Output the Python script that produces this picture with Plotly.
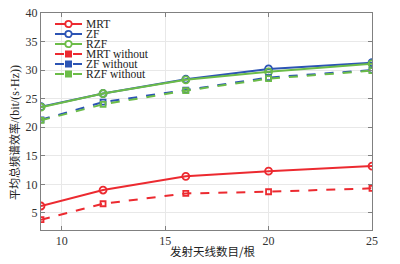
import plotly.graph_objects as go

x = [9, 12, 16, 20, 25]
mrt = [6.2, 9.0, 11.4, 12.3, 13.2]
zf = [23.6, 25.9, 28.4, 30.2, 31.3]
rzf = [23.5, 25.9, 28.3, 29.7, 31.1]
mrt_wo = [3.8, 6.6, 8.4, 8.7, 9.3]
zf_wo = [21.3, 24.4, 26.5, 28.7, 30.0]
rzf_wo = [21.2, 24.0, 26.4, 28.5, 29.9]

names = ["MRT", "ZF", "RZF", "MRT without", "ZF without", "RZF without"]
series = [mrt, zf, rzf, mrt_wo, zf_wo, rzf_wo]
red, blue, green = "#ec2a30", "#2c54b4", "#6cbc48"
colors = [red, blue, green, red, blue, green]

x_title = "发射天线数目/根"
y_title_cn = "平均总频谱效率"
y_title_unit = "/(bit/(s·Hz))"

W, H = 400, 264
L, R, T, B = 41, 28, 13, 34
pw, ph = W - L - R, H - T - B

def px2paper(px, py):
    return (px - L) / pw, (H - B - py) / ph

font = "Liberation Serif"
cjk = "Noto Sans CJK SC"

fig = go.Figure()
for i, (n, s, c) in enumerate(zip(names, series, colors)):
    solid = i < 3
    fig.add_trace(go.Scatter(
        x=x, y=s, name=n, mode="lines+markers", showlegend=False, hoverinfo="skip",
        line=dict(color=c, width=2, dash="solid" if solid else "dash"),
        marker=dict(symbol="circle-open" if solid else "square-open",
                    size=7 if solid else 5, color=c, line=dict(width=1.8, color=c)),
    ))

# custom compact legend (paper coordinates)
shapes = []
annotations = []
for i, (n, c) in enumerate(zip(names, colors)):
    solid = i < 3
    py = 24 + i * 10
    x0, y0 = px2paper(55, py)
    x1, _ = px2paper(82, py)
    shapes.append(dict(type="line", xref="paper", yref="paper", x0=x0, x1=x1, y0=y0, y1=y0,
                       line=dict(color=c, width=2, dash="solid" if solid else "dash")))
    r = 3.2 if solid else 2.6
    ax0, ay0 = px2paper(68.5 - r, py + r)
    ax1, ay1 = px2paper(68.5 + r, py - r)
    shapes.append(dict(type="circle" if solid else "rect", xref="paper", yref="paper",
                       x0=ax0, x1=ax1, y0=ay0, y1=ay1,
                       line=dict(color=c, width=1.8), fillcolor="white" if solid else c))
    tx, _ = px2paper(85, py)
    annotations.append(dict(text=n, xref="paper", yref="paper", x=tx, y=y0,
                            xanchor="left", yanchor="middle", showarrow=False, borderpad=0,
                            font=dict(family=font, size=11.5, color="#222222")))

# axis titles placed as annotations
xt_x, xt_y = px2paper(213, 251)
annotations.append(dict(text=x_title, xref="paper", yref="paper", x=xt_x, y=xt_y,
                        xanchor="center", yanchor="middle", showarrow=False, borderpad=0,
                        font=dict(family=cjk, size=11.5, color="#222222")))
yt_x, yt_y = px2paper(14, 133)
annotations.append(dict(
    text=y_title_cn + "<span style='font-family:Liberation Serif;font-size:12px'>" + y_title_unit + "</span>",
    xref="paper", yref="paper", x=yt_x, y=yt_y,
    xanchor="center", yanchor="middle", showarrow=False, borderpad=0,
    textangle=-90, font=dict(family=cjk, size=11, color="#222222")))

axis_common = dict(
    showline=True, linecolor="#808080", linewidth=1, mirror="ticks",
    ticks="inside", ticklen=4, tickcolor="#808080", automargin=False,
    showgrid=True, gridcolor="#e8e8e8", gridwidth=1, zeroline=False,
    tickfont=dict(family=font, size=12, color="#333333"),
)
fig.update_layout(
    width=W, height=H,
    margin=dict(l=L, r=R, t=T, b=B),
    paper_bgcolor="white", plot_bgcolor="white",
    font=dict(family=font, size=12, color="#333333"),
    showlegend=False, hovermode=False,
    shapes=shapes, annotations=annotations,
    xaxis=dict(range=[9, 25], tickvals=[10, 15, 20, 25], **axis_common),
    yaxis=dict(range=[2, 40], tickvals=[5, 10, 15, 20, 25, 30, 35, 40], **axis_common),
)
fig.write_html("out.html", config={"displayModeBar": False},
               post_script="document.body.style.margin='0';document.body.style.overflow='hidden';")
